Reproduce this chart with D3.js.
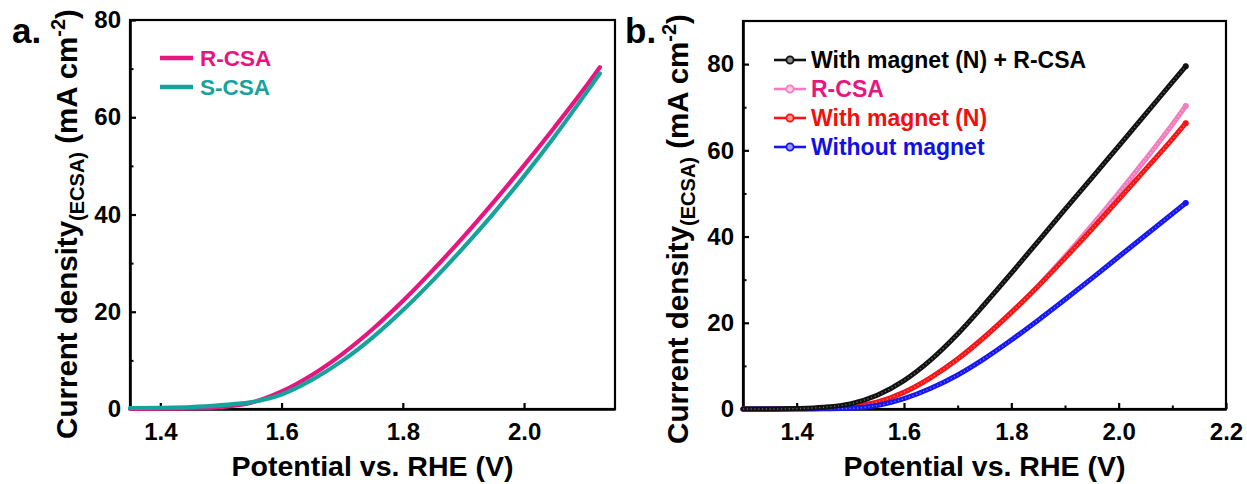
<!DOCTYPE html>
<html><head><meta charset="utf-8">
<script src="https://cdn.jsdelivr.net/npm/d3@7"></script>
<style>
html,body{margin:0;padding:0;background:#fff;}
svg{display:block;}
text{font-family:"Liberation Sans",Arial,sans-serif;font-weight:bold;}
</style></head>
<body>
<svg id="chart" width="1247" height="484"></svg>
<script>
// ---------- DATA ----------
const potA = [1.35,1.40,1.45,1.50,1.55,1.60,1.65,1.70,1.75,1.80,1.85,1.90,1.95,2.00,2.05,2.10,2.125];
const rCSA_A = [0.0,0.05,0.1,0.4,1.3,3.6,7.0,11.3,16.4,22.2,28.6,35.4,42.6,50.1,57.9,66.0,70.3];
const sCSA_A = [0.2,0.25,0.4,0.8,1.4,3.0,6.0,9.9,14.7,20.3,26.5,33.2,40.3,47.9,56.0,64.6,69.0];
const seriesA = ["R-CSA","S-CSA"];

const potB = [1.30,1.35,1.40,1.45,1.50,1.55,1.60,1.65,1.70,1.75,1.80,1.85,1.90,1.95,2.00,2.05,2.10,2.125];
const magnetRCSA = [0.0,0.0,0.1,0.4,1.2,3.2,6.6,11.4,17.4,24.3,31.5,38.9,46.3,53.6,61.0,68.4,75.8,79.5];
const rCSA_B    = [0.0,0.0,0.05,0.15,0.5,1.6,3.9,7.3,11.6,16.7,22.4,28.6,35.4,42.6,50.1,57.9,66.0,70.3];
const magnetN   = [0.0,0.0,0.05,0.15,0.5,1.6,3.9,7.3,11.6,16.7,22.4,28.5,35.0,41.7,48.6,55.6,62.6,66.3];
const noMagnet  = [0.0,0.0,0.0,0.05,0.15,0.8,2.4,4.8,7.9,11.7,16.0,20.6,25.4,30.3,35.3,40.3,45.3,47.8];
const seriesB = ["With magnet (N) + R-CSA","R-CSA","With magnet (N)","Without magnet"];

const xTicksA = [1.4,1.6,1.8,2.0];
const xTicksB = [1.4,1.6,1.8,2.0,2.2];
const yTicks = [0,20,40,60,80];

// ---------- STYLE ----------
const colA = {"R-CSA":"#e8157f","S-CSA":"#17a39d"};
const colB = {"With magnet (N) + R-CSA":"#111111","R-CSA":"#f27cbe","With magnet (N)":"#f51515","Without magnet":"#1616f0"};
const textColB = {"With magnet (N) + R-CSA":"#000000","R-CSA":"#e6177f","With magnet (N)":"#f01010","Without magnet":"#1010e6"};
const dotColB = {"With magnet (N) + R-CSA":"#8a8a8a","R-CSA":"#fbd0e8","With magnet (N)":"#ff9a9a","Without magnet":"#9a9aff"};

const svg = d3.select("#chart");

function panel(cfg){
  const g = svg.append("g");
  const x = d3.scaleLinear(cfg.xDomain, cfg.xRange);
  const y = d3.scaleLinear(cfg.yDomain, cfg.yRange);
  g.append("rect").attr("x",cfg.xRange[0]).attr("y",cfg.yRange[1])
    .attr("width",cfg.xRange[1]-cfg.xRange[0]).attr("height",cfg.yRange[0]-cfg.yRange[1])
    .attr("fill","none").attr("stroke","#000").attr("stroke-width",2.2);
  const xMinor = d3.range(cfg.xDomain[0], cfg.xDomain[1]+1e-9, 0.1).map(v=>+v.toFixed(2)).filter(v=>Math.abs(v*10-Math.round(v*10))<1e-6 && Math.round(v*10)%2===1);
  const yMinor = d3.range(10, cfg.yDomain[1], 20);
  g.append("g").attr("transform",`translate(0,${cfg.yRange[0]})`)
    .call(d3.axisBottom(x).tickValues(xMinor).tickSize(-3.5).tickFormat(""))
    .call(s=>s.select(".domain").remove()).selectAll("line").attr("stroke-width",2);
  g.append("g").attr("transform",`translate(${cfg.xRange[0]},0)`)
    .call(d3.axisLeft(y).tickValues(yMinor).tickSize(-3.5).tickFormat(""))
    .call(s=>s.select(".domain").remove()).selectAll("line").attr("stroke-width",2);
  const ax = g.append("g").attr("transform",`translate(0,${cfg.yRange[0]})`)
    .call(d3.axisBottom(x).tickValues(cfg.xTicks).tickSize(-6).tickPadding(14).tickFormat(d3.format(".1f")).tickSizeOuter(0));
  const ay = g.append("g").attr("transform",`translate(${cfg.xRange[0]},0)`)
    .call(d3.axisLeft(y).tickValues(yTicks).tickSize(-6).tickPadding(9).tickFormat(d3.format("d")).tickSizeOuter(0));
  [ax,ay].forEach(a=>{
    a.select(".domain").attr("stroke-width",2.6);
    a.selectAll(".tick line").attr("stroke-width",2.2);
    a.selectAll(".tick text").attr("font-size",24).attr("font-family","'Liberation Sans',Arial,sans-serif").attr("font-weight","bold").attr("fill","#000");
  });
  g.append("text").attr("x",(cfg.xRange[0]+cfg.xRange[1])/2).attr("y",476)
    .attr("text-anchor","middle").attr("font-size",28.5).text("Potential vs. RHE (V)");
  const yt = g.append("text").attr("transform",`translate(${cfg.yTitleX},${cfg.yTitleY}) rotate(-90)`)
    .attr("text-anchor","middle").attr("font-size",29.5);
  yt.append("tspan").text("Current density");
  yt.append("tspan").attr("font-size",20).attr("dy",7).text("(ECSA)");
  yt.append("tspan").attr("dy",-7).text(" (mA cm");
  yt.append("tspan").attr("font-size",20).attr("dy",-12).text("-2");
  yt.append("tspan").attr("dy",12).text(")");
  g.append("text").attr("x",cfg.labelX).attr("y",43).attr("font-size",35).text(cfg.label);
  return {g,x,y};
}

// ---------- PANEL A ----------
const A = panel({xDomain:[1.35,2.15],xRange:[130,615],yDomain:[0,80],yRange:[409,20],
  xTicks:xTicksA,yTitleX:77,yTitleY:224,label:"a.",labelX:12});
const lineA = d3.line().x((d,i)=>A.x(potA[i])).y(d=>A.y(d)).curve(d3.curveMonotoneX);
[["R-CSA",rCSA_A],["S-CSA",sCSA_A]].forEach(([name,vals])=>{
  A.g.append("path").attr("d",lineA(vals)).attr("fill","none")
    .attr("stroke",colA[name]).attr("stroke-width",4.2).attr("stroke-linecap","round");
});
seriesA.forEach((name,i)=>{
  const yy = 58 + i*29;
  A.g.append("line").attr("x1",160).attr("x2",193).attr("y1",yy).attr("y2",yy)
    .attr("stroke",colA[name]).attr("stroke-width",4.5);
  A.g.append("text").attr("x",200).attr("y",yy+8).attr("font-size",22.5).attr("fill",colA[name]).text(name);
});

// ---------- PANEL B ----------
const B = panel({xDomain:[1.3,2.2],xRange:[743,1226],yDomain:[0,90],yRange:[409,21],
  xTicks:xTicksB,yTitleX:688,yTitleY:229,label:"b.",labelX:625});
const lineB = d3.line().x((d,i)=>B.x(potB[i])).y(d=>B.y(d)).curve(d3.curveMonotoneX);
const dataB = {"With magnet (N) + R-CSA":magnetRCSA,"R-CSA":rCSA_B,"With magnet (N)":magnetN,"Without magnet":noMagnet};
["R-CSA","With magnet (N)","Without magnet","With magnet (N) + R-CSA"].forEach(name=>{
  const vals = dataB[name];
  B.g.append("path").attr("d",lineB(vals)).attr("fill","none")
    .attr("stroke",colB[name]).attr("stroke-width",5).attr("stroke-linecap","round");
  B.g.append("path").attr("d",lineB(vals)).attr("fill","none")
    .attr("stroke",dotColB[name]).attr("stroke-width",1.4).attr("stroke-dasharray","1.2,2.6").attr("opacity",0.7);
  const last = vals.length-1;
  B.g.append("circle").attr("cx",B.x(potB[last])).attr("cy",B.y(vals[last])).attr("r",3)
    .attr("fill",colB[name]);
});
seriesB.forEach((name,i)=>{
  const yy = 60 + i*29;
  B.g.append("line").attr("x1",774).attr("x2",806).attr("y1",yy).attr("y2",yy)
    .attr("stroke",colB[name]).attr("stroke-width",2.6);
  B.g.append("circle").attr("cx",790).attr("cy",yy).attr("r",3.6)
    .attr("fill",dotColB[name]).attr("stroke",colB[name]).attr("stroke-width",1.8);
  B.g.append("text").attr("x",811).attr("y",yy+8).attr("font-size",23).attr("fill",textColB[name]).text(name);
});
</script>
</body></html>
